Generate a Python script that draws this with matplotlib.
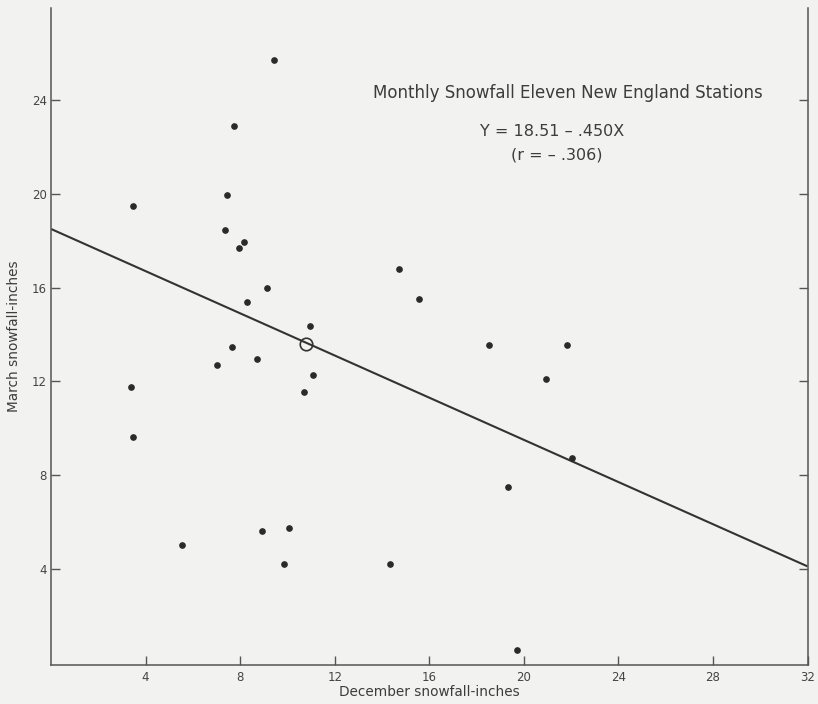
import matplotlib
matplotlib.use('Agg')
import matplotlib.pyplot as plt

# December / March snowfall (inches)
december = [9.45, 7.73, 7.44, 3.48, 7.35, 8.17, 7.94, 9.14, 8.28, 10.94,
            7.65, 8.70, 7.04, 11.07, 3.40, 10.69, 3.48, 10.07, 8.93, 5.55,
            9.87, 14.70, 15.56, 18.53, 21.84, 20.94, 22.05, 19.35, 14.35, 19.72]
march = [25.70, 22.89, 19.97, 19.48, 18.47, 17.97, 17.69, 16.00, 15.38, 14.35,
         13.48, 12.97, 12.71, 12.26, 11.77, 11.57, 9.65, 5.74, 5.64, 5.03,
         4.23, 16.79, 15.53, 13.57, 13.56, 12.09, 8.75, 7.51, 4.20, 0.54]

intercept = 18.51
slope = -0.450
mean_point = (10.79, 13.62)

x_ticks = [4, 8, 12, 16, 20, 24, 28, 32]
y_ticks = [4, 8, 12, 16, 20, 24]

bg = '#f2f2f0'
ink = '#2a2a2a'
txt = '#3c3c3c'

fig = plt.figure(figsize=(8.18, 7.04), dpi=100, facecolor=bg)
ax = fig.add_axes([51 / 818, 39 / 704, 756.5 / 818, 657 / 704], facecolor=bg)

ax.set_xlim(0, 32)
ax.set_ylim(-0.1, 27.94)

# regression line over the whole axis
xs = [0, 32]
ax.plot(xs, [intercept + slope * x for x in xs], color='#333333', lw=1.5,
        solid_capstyle='butt', zorder=2)
ax.plot(december, march, 'o', color=ink, ms=3.8, zorder=3)
ax.plot(*mean_point, 'o', mfc='none', mec='#333333', ms=9, mew=1.2, zorder=4)

for side in ['left', 'bottom', 'right']:
    ax.spines[side].set_color('#555555')
    ax.spines[side].set_linewidth(1.1)
ax.spines['top'].set_visible(False)

ax.set_xticks(x_ticks)
ax.set_yticks(y_ticks)
ax.tick_params(axis='x', direction='in', length=6.5, width=1, color='#555555',
               labelsize=8.5, labelcolor='#444444', pad=4)
ax.tick_params(axis='y', direction='in', length=6.5, width=1, color='#555555',
               labelsize=8.5, labelcolor='#444444', pad=3, right=True)

ax.set_xlabel('December snowfall-inches', fontsize=9.8, color=txt, labelpad=1)
ax.set_ylabel('March snowfall-inches', fontsize=9.8, color=txt)
ax.yaxis.set_label_coords(-0.040, 0.5)

ax.text(21.85, 24.3, 'Monthly Snowfall Eleven New England Stations',
        ha='center', va='center', fontsize=12, color=txt)
ax.text(21.2, 22.66, 'Y = 18.51 \u2013 .450X', ha='center', va='center',
        fontsize=11.5, color=txt)
ax.text(21.4, 21.65, '(r = \u2013 .306)', ha='center', va='center',
        fontsize=11.5, color=txt)

fig.savefig('out.png', dpi=100, facecolor=bg)
